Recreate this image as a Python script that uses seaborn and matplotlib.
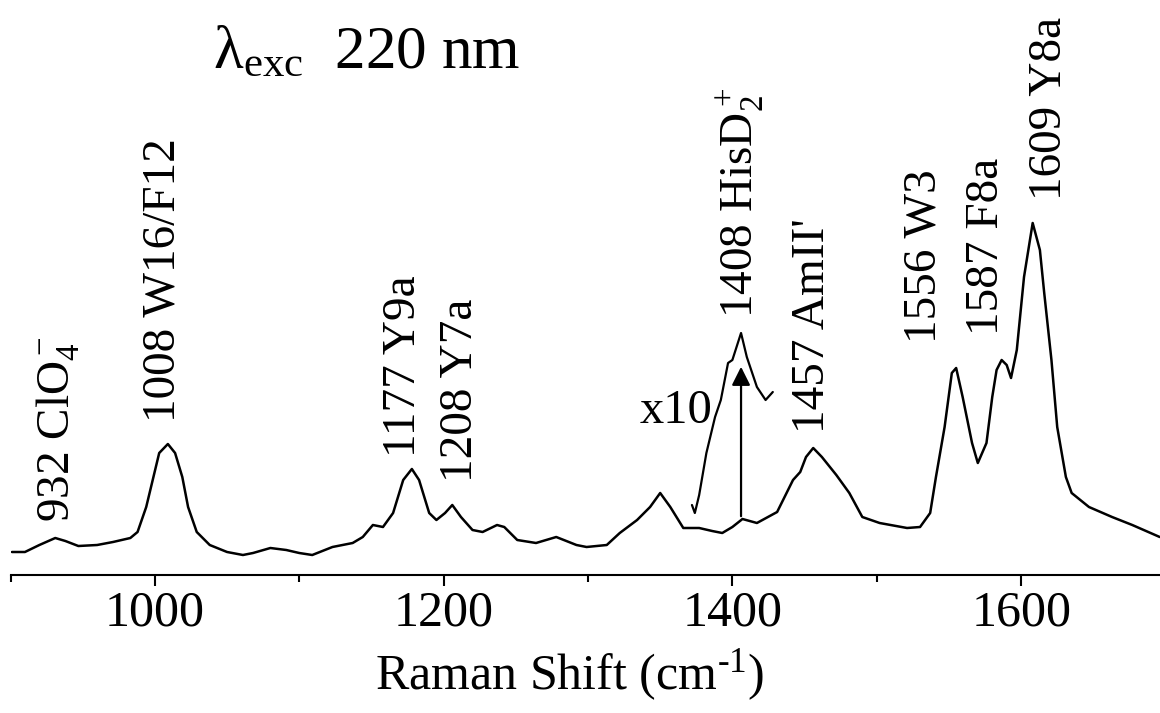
import matplotlib
matplotlib.use("Agg")
import matplotlib.pyplot as plt
import seaborn as sns

sns.set_style("white")
plt.rcParams['font.family'] = ['Liberation Serif', 'DejaVu Serif']
plt.rcParams['mathtext.fontset'] = 'custom'
plt.rcParams['mathtext.rm'] = 'Liberation Serif'
plt.rcParams['mathtext.it'] = 'Liberation Serif:italic'
plt.rcParams['text.color'] = 'black'
plt.rcParams['axes.labelcolor'] = 'black'
plt.rcParams['xtick.color'] = 'black'

# spectrum (arbitrary intensity units)
shift = [901, 910, 920, 931, 938, 947, 960, 971, 983, 988, 994, 999, 1003, 1009, 1014,
         1019, 1023, 1029, 1038, 1050, 1061, 1068, 1080, 1091, 1100, 1109, 1123, 1137,
         1144, 1151, 1158, 1165, 1172, 1178, 1183, 1190, 1195, 1201, 1206, 1212, 1220,
         1227, 1237, 1242, 1251, 1264, 1278, 1292, 1299, 1313, 1322, 1334, 1343, 1350,
         1357, 1366, 1377, 1386, 1393, 1400, 1407, 1417, 1431, 1442, 1447, 1451, 1456,
         1462, 1472, 1481, 1490, 1502, 1521, 1530, 1537, 1541, 1547, 1552, 1555, 1559.5,
         1566, 1570, 1576, 1580, 1583, 1586.5, 1590, 1593, 1597, 1602, 1608, 1613, 1616,
         1621, 1625, 1631, 1635, 1647, 1663, 1677, 1696]
intensity = [23, 23, 30, 37, 34, 29, 30, 33, 37, 43, 68, 98, 122, 131, 122,
             98, 68, 43, 30, 23, 20, 22, 27, 25, 22, 20, 28, 32,
             38, 50, 48, 62, 95, 106, 95, 62, 55, 62, 70, 58, 45,
             43, 50, 48, 35, 32, 38, 30, 28, 30, 42, 55, 68, 82,
             68, 47, 47, 44, 42, 48, 56, 52, 63, 95, 103, 118, 127,
             118, 100, 82, 58, 52, 47, 48, 62, 98, 148, 202, 207, 178,
             132, 112, 132, 178, 205, 215, 210, 197, 225, 298, 352, 325, 282,
             215, 148, 98, 82, 68, 58, 50, 38]

# x10 magnified segment around 1408
shift_x10 = [1372, 1374, 1377, 1382, 1388, 1392, 1397, 1400, 1406,
             1410, 1417, 1423, 1428]
intensity_x10 = [70, 62, 80, 122, 158, 175, 212, 215, 242,
                 218, 188, 175, 183]

# band labels: (position, label bottom, text)
band_pos = [933, 1005.5, 1172.5, 1212, 1406, 1455.5, 1533, 1576, 1619.5]
band_bottom = [53, 153, 118, 93, 257, 142, 232, 240, 375]
band_text = ["932 ClO$_4^-$", "1008 W16/F12", "1177 Y9a", "1208 Y7a",
             "1408 HisD$_2^+$", "1457 AmII'", "1556 W3", "1587 F8a", "1609 Y8a"]

fig = plt.figure(figsize=(11.6, 7.13), dpi=100)
ax = fig.add_axes([10.5 / 1160, 138 / 713, 1155 / 1160, 575 / 713])

sns.lineplot(x=shift, y=intensity, color="black", lw=1.8, ax=ax, estimator=None)
sns.lineplot(x=shift_x10, y=intensity_x10, color="black", lw=1.6, ax=ax,
             estimator=None, sort=False)
ax.annotate("", xy=(1406, 211), xytext=(1406, 56),
            arrowprops=dict(arrowstyle="-|>", lw=1.6, color="black", mutation_scale=28))
ax.text(1361, 152, "x10", fontsize=35, ha="center", va="baseline")

for xp, yb, t in zip(band_pos, band_bottom, band_text):
    ax.text(xp, yb, t, rotation=90, ha="center", va="bottom", fontsize=34)

ax.set_xlim(900, 1700)
ax.set_ylim(0, 575)
ax.set_xticks([1000, 1200, 1400, 1600])
ax.set_xticks([900, 1100, 1300, 1500, 1700], minor=True)
ax.set_yticks([])
ax.tick_params(axis="x", which="major", direction="out", length=8, width=1.5,
               labelsize=36, pad=3, bottom=True)
ax.tick_params(axis="x", which="minor", direction="out", length=5, width=1.5, bottom=True)
sns.despine(ax=ax, left=True)
ax.spines["bottom"].set_linewidth(1.5)
ax.spines["bottom"].set_color("black")
ax.set_ylabel("")
ax.set_xlabel(r"Raman Shift (cm$^{\text{-}1}$)", fontsize=36)
ax.xaxis.set_label_coords(0.4835, -0.125)
ax.xaxis.label.set_va("top")

fig.text(213 / 1160, 1 - 68 / 713, r"λ$_{\mathrm{exc}}$  220 nm", fontsize=44,
         ha="left", va="baseline")

fig.savefig("out.png", dpi=100)
